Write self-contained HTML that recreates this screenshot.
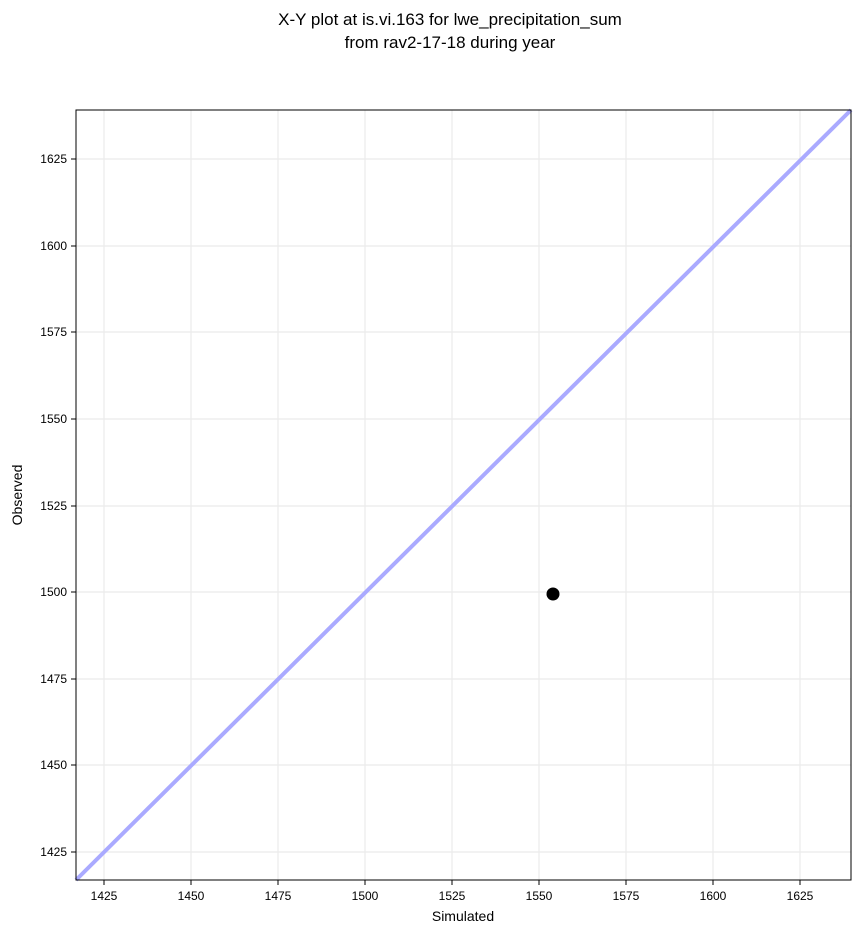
<!DOCTYPE html>
<html><head><meta charset="utf-8"><style>
body{margin:0;background:#fff;}
text{font-family:"Liberation Sans","DejaVu Sans",sans-serif;}
</style></head><body>
<svg width="860" height="934" viewBox="0 0 860 934" xmlns="http://www.w3.org/2000/svg">
<rect width="860" height="934" fill="#fff"/>
<text x="450" y="25" font-size="17" text-anchor="middle">X-Y plot at is.vi.163 for lwe_precipitation_sum</text>
<text x="450" y="48" font-size="17" text-anchor="middle">from rav2-17-18 during year</text>
<g stroke="#ebebeb" stroke-width="1.2">
<line x1="104" y1="110" x2="104" y2="880"/><line x1="191" y1="110" x2="191" y2="880"/>
<line x1="278" y1="110" x2="278" y2="880"/><line x1="365" y1="110" x2="365" y2="880"/>
<line x1="452" y1="110" x2="452" y2="880"/><line x1="539" y1="110" x2="539" y2="880"/>
<line x1="626" y1="110" x2="626" y2="880"/><line x1="713" y1="110" x2="713" y2="880"/>
<line x1="800" y1="110" x2="800" y2="880"/>
<line x1="76" y1="159" x2="851" y2="159"/><line x1="76" y1="246" x2="851" y2="246"/>
<line x1="76" y1="332" x2="851" y2="332"/><line x1="76" y1="419" x2="851" y2="419"/>
<line x1="76" y1="506" x2="851" y2="506"/><line x1="76" y1="592" x2="851" y2="592"/>
<line x1="76" y1="679" x2="851" y2="679"/><line x1="76" y1="765" x2="851" y2="765"/>
<line x1="76" y1="852" x2="851" y2="852"/>
</g>
<line x1="76" y1="880" x2="851" y2="110" stroke="#aaaaff" stroke-width="4"/>
<circle cx="553" cy="594" r="6.5" fill="#000"/>
<rect x="76" y="110" width="775" height="770" fill="none" stroke="#000" stroke-width="1"/>
<g stroke="#000" stroke-width="1">
<line x1="104" y1="880" x2="104" y2="885"/><line x1="191" y1="880" x2="191" y2="885"/>
<line x1="278" y1="880" x2="278" y2="885"/><line x1="365" y1="880" x2="365" y2="885"/>
<line x1="452" y1="880" x2="452" y2="885"/><line x1="539" y1="880" x2="539" y2="885"/>
<line x1="626" y1="880" x2="626" y2="885"/><line x1="713" y1="880" x2="713" y2="885"/>
<line x1="800" y1="880" x2="800" y2="885"/>
<line x1="71" y1="159" x2="76" y2="159"/><line x1="71" y1="246" x2="76" y2="246"/>
<line x1="71" y1="332" x2="76" y2="332"/><line x1="71" y1="419" x2="76" y2="419"/>
<line x1="71" y1="506" x2="76" y2="506"/><line x1="71" y1="592" x2="76" y2="592"/>
<line x1="71" y1="679" x2="76" y2="679"/><line x1="71" y1="765" x2="76" y2="765"/>
<line x1="71" y1="852" x2="76" y2="852"/>
</g>
<g font-size="12" text-anchor="middle">
<text x="104" y="900">1425</text><text x="191" y="900">1450</text><text x="278" y="900">1475</text>
<text x="365" y="900">1500</text><text x="452" y="900">1525</text><text x="539" y="900">1550</text>
<text x="626" y="900">1575</text><text x="713" y="900">1600</text><text x="800" y="900">1625</text>
</g>
<g font-size="12" text-anchor="end">
<text x="67" y="163">1625</text><text x="67" y="250">1600</text><text x="67" y="336">1575</text>
<text x="67" y="423">1550</text><text x="67" y="510">1525</text><text x="67" y="596">1500</text>
<text x="67" y="683">1475</text><text x="67" y="769">1450</text><text x="67" y="856">1425</text>
</g>
<text x="463" y="921" font-size="14" text-anchor="middle">Simulated</text>
<text transform="translate(22,495) rotate(-90)" font-size="14" text-anchor="middle">Observed</text>
</svg>
</body></html>
